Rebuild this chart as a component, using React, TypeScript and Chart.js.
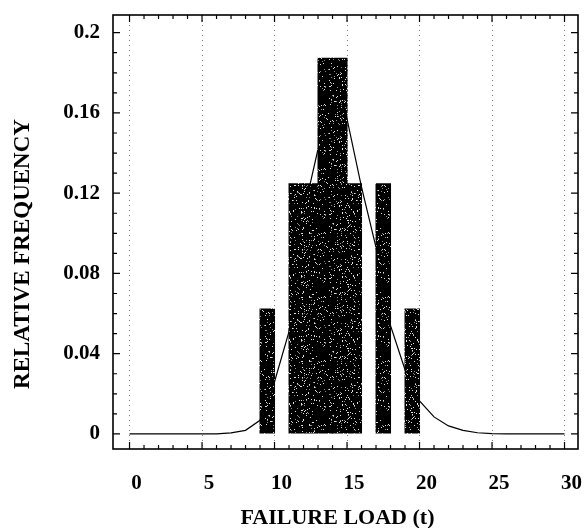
import React, { useEffect, useRef } from 'react';
import { Chart, registerables } from 'chart.js';

Chart.register(...registerables);

// Histogram: bin centres (t) and relative frequencies (n = 16)
const binCenters = [9.5, 11.5, 12.5, 13.5, 14.5, 15.5, 17.5, 19.5];
const relFreq = [0.0625, 0.125, 0.125, 0.1875, 0.1875, 0.125, 0.125, 0.0625];

// Fitted density curve
const curveX = [0, 1, 2, 3, 4, 5, 6, 7, 8, 9, 10, 11, 12, 13, 14, 15, 16, 17, 18, 19, 20, 21, 22, 23, 24, 25, 26, 27, 28, 29, 30];
const curveY = [0, 0, 0, 0, 0, 0, 0, 0.0005, 0.0018, 0.0068, 0.026, 0.051, 0.11, 0.142, 0.153, 0.157, 0.123, 0.093, 0.054, 0.032, 0.0165, 0.0085, 0.004, 0.0018, 0.0006, 0.0002, 0, 0, 0, 0, 0];

const xTicks = [0, 5, 10, 15, 20, 25, 30];
const yTicks = [0, 0.04, 0.08, 0.12, 0.16, 0.2];
const yTickLabels = ['0', '0.04', '0.08', '0.12', '0.16', '0.2'];

const xTitle = 'FAILURE LOAD (t)';
const yTitle = 'RELATIVE FREQUENCY';

const SERIF = "'Liberation Serif', 'Times New Roman', serif";

function hash2(x: number, y: number): number {
  let h = Math.imul(x, 374761393) + Math.imul(y, 668265263);
  h = Math.imul(h ^ (h >>> 13), 1274126177);
  h = h ^ (h >>> 16);
  return h >>> 0;
}

function makeStipple(): CanvasPattern | string {
  const c = document.createElement('canvas');
  c.width = 64;
  c.height = 64;
  const g = c.getContext('2d');
  if (!g) return '#000';
  g.fillStyle = '#000';
  g.fillRect(0, 0, c.width, c.height);
  for (let y = 0; y < c.height; y++) {
    for (let x = 0; x < c.width; x++) {
      const h = hash2(x, y) % 100;
      if (h < 5) {
        g.fillStyle = '#e0e0e0';
        g.fillRect(x, y, 1, 1);
      } else if (h < 8) {
        g.fillStyle = '#8a8a8a';
        g.fillRect(x, y, 1, 1);
      }
    }
  }
  return g.createPattern(c, 'repeat') || '#000';
}

const framePlugin = {
  id: 'frameAndTitles',
  afterDraw(chart: any) {
    const { ctx, chartArea: a, scales } = chart;
    const xs = scales.x;
    const ys = scales.y;
    ctx.save();
    ctx.strokeStyle = '#000';
    ctx.lineWidth = 1.6;
    ctx.strokeRect(a.left, a.top, a.right - a.left, a.bottom - a.top);
    ctx.lineWidth = 1.2;
    ctx.beginPath();
    for (let v = 0; v <= 30; v++) {
      const px = xs.getPixelForValue(v);
      const len = v % 5 === 0 ? 7 : 4;
      ctx.moveTo(px, a.bottom);
      ctx.lineTo(px, a.bottom - len);
      ctx.moveTo(px, a.top);
      ctx.lineTo(px, a.top + len);
    }
    for (let k = 0; k <= 20; k++) {
      const py = ys.getPixelForValue(k / 100);
      const len = k % 4 === 0 ? 7 : 4;
      ctx.moveTo(a.left, py);
      ctx.lineTo(a.left + len, py);
      ctx.moveTo(a.right, py);
      ctx.lineTo(a.right - len, py);
    }
    ctx.stroke();

    ctx.fillStyle = '#000';
    ctx.textAlign = 'center';
    ctx.textBaseline = 'middle';
    ctx.font = `bold 22px ${SERIF}`;
    ctx.fillText(xTitle, (a.left + a.right) / 2 - 8, chart.height - 10);
    ctx.font = `bold 23px ${SERIF}`;
    ctx.translate(a.left - 90, (a.top + a.bottom) / 2 + 22);
    ctx.rotate(-Math.PI / 2);
    ctx.fillText(yTitle, 0, 0);
    ctx.restore();
  },
};

export default function App() {
  const ref = useRef<HTMLCanvasElement | null>(null);

  useEffect(() => {
    if (!ref.current) return;
    const pattern = makeStipple();
    const chart = new Chart(ref.current, {
      type: 'bar',
      data: {
        datasets: [
          {
            type: 'bar',
            label: 'Relative frequency',
            data: binCenters.map((x, i) => ({ x, y: relFreq[i] })),
            backgroundColor: pattern as any,
            borderWidth: 0,
            barPercentage: 1.07,
            categoryPercentage: 1,
            order: 1,
          },
          {
            type: 'line',
            label: 'Density',
            data: curveX.map((x, i) => ({ x, y: curveY[i] })),
            borderColor: '#000',
            borderWidth: 1.2,
            pointRadius: 0,
            tension: 0,
            fill: false,
            order: 2,
          },
        ] as any,
      },
      options: {
        responsive: false,
        animation: false,
        devicePixelRatio: 1,
        layout: { padding: { top: 15, right: 8, bottom: 0, left: 0 } },
        plugins: {
          legend: { display: false },
          tooltip: { enabled: false },
        },
        scales: {
          x: {
            type: 'linear',
            min: -1.14,
            max: 30.93,
            offset: false,
            afterBuildTicks: (s: any) => {
              s.ticks = xTicks.map((v) => ({ value: v }));
            },
            afterFit: (s: any) => {
              s.height = 79;
              s.paddingLeft = 0;
              s.paddingRight = 0;
            },
            grid: {
              display: true,
              drawOnChartArea: true,
              drawTicks: false,
              color: '#7a7a7a',
              lineWidth: 1,
              offset: false,
            },
            border: { display: false, dash: [1, 4] },
            ticks: {
              color: '#000',
              font: { family: SERIF, size: 21, weight: 'bold' },
              padding: 22,
              labelOffset: 7,
              maxRotation: 0,
              callback: (v: any) => String(v),
            },
          },
          y: {
            type: 'linear',
            min: -0.0075,
            max: 0.2088,
            afterBuildTicks: (s: any) => {
              s.ticks = yTicks.map((v) => ({ value: v }));
            },
            afterFit: (s: any) => {
              s.width = 113;
              s.paddingTop = 0;
              s.paddingBottom = 0;
            },
            grid: { display: true, drawOnChartArea: false, drawTicks: false },
            border: { display: false },
            ticks: {
              color: '#000',
              font: { family: SERIF, size: 21, weight: 'bold' },
              padding: 13,
              callback: (_v: any, i: number) => yTickLabels[i],
            },
          },
        },
      } as any,
      plugins: [framePlugin],
    });
    return () => chart.destroy();
  }, []);

  return (
    <div style={{ position: 'absolute', left: 0, top: 0, width: 586, height: 528, background: '#fff' }}>
      <canvas ref={ref} width={586} height={528} style={{ display: 'block' }} />
    </div>
  );
}
